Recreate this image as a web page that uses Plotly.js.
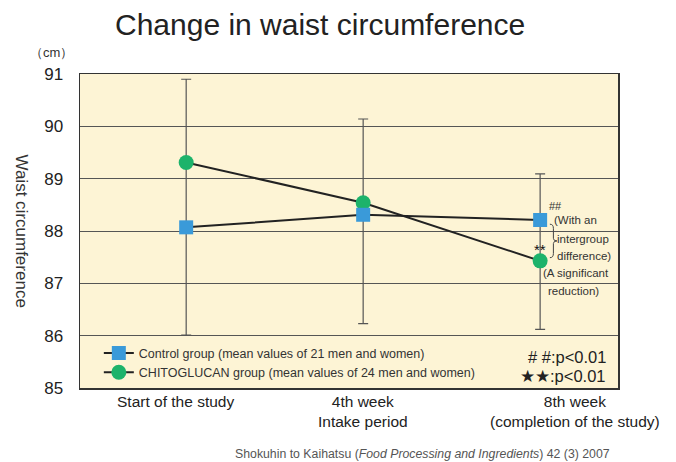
<!DOCTYPE html>
<html><head><meta charset="utf-8">
<script src="https://cdn.plot.ly/plotly-3.0.1.min.js"></script>
<style>html,body{margin:0;padding:0;background:#fff}#chart{width:676px;height:462px}</style>
</head><body><div id="chart"></div>
<script>
const categories = [0, 1, 2];
const categoryLabels = ["Start of the study", "4th week<br>Intake period", "8th week<br>(completion of the study)"];
const controlValues = [88.07, 88.31, 88.21];
const chitoglucanValues = [89.31, 88.54, 87.43];
const errorTop = [90.90, 90.14, 89.09];
const errorBottom = [86.01, 86.23, 86.12];
const yTicks = [85, 86, 87, 88, 89, 90, 91];

const sans = '"Liberation Sans", Arial, sans-serif';

const chito = {
  x: categories, y: chitoglucanValues, type: 'scatter', mode: 'lines+markers',
  name: 'CHITOGLUCAN group (mean values of 24 men and women)',
  line: {color: '#222', width: 2},
  marker: {symbol: 'circle', size: 15, color: '#1db36b'},
  error_y: {type: 'data', symmetric: false,
    array: errorTop.map((v, i) => v - chitoglucanValues[i]),
    arrayminus: chitoglucanValues.map((v, i) => v - errorBottom[i]),
    color: '#555', thickness: 1.2, width: 5}
};
const control = {
  x: categories, y: controlValues, type: 'scatter', mode: 'lines+markers',
  name: 'Control group (mean values of 21 men and women)',
  line: {color: '#222', width: 2},
  marker: {symbol: 'square', size: 14, color: '#3a9ad9'}
};

const noteFont = {family: sans, size: 11.5, color: '#333'};
const annotations = categoryLabels.map((t, i) => ({
  x: categories[i], y: 0, xref: 'x', yref: 'paper', yanchor: 'top', yshift: -3,
  xshift: [-11, 0, 35][i],
  text: t, showarrow: false, font: {family: sans, size: 15.5, color: '#222'}
}));
annotations.push(
  {x: 0.5, y: 1, xref: 'paper', yref: 'paper', xshift: -29, yshift: 68, text: 'Change in waist circumference',
   showarrow: false, font: {family: sans, size: 30, color: '#222'}},
  {x: 0, y: 1, xref: 'paper', yref: 'paper', xshift: -52, yshift: 31, text: '（cm）', showarrow: false,
   font: {family: sans, size: 13, color: '#333'}},
  {x: 0, y: 0.5, xref: 'paper', yref: 'paper', xshift: -70, text: 'Waist circumference', textangle: 90,
   showarrow: false, font: {family: sans, size: 17, color: '#333'}},
  {x: 2, y: controlValues[2], xref: 'x', yref: 'y', xshift: 15, yshift: 14, text: '##', showarrow: false,
   font: {family: sans, size: 11, color: '#333'}},
  {x: 2, y: controlValues[2], xref: 'x', yref: 'y', xanchor: 'left', xshift: 12, yshift: 0,
   text: '(With an', showarrow: false, font: noteFont},
  {x: 2, y: controlValues[2], xref: 'x', yref: 'y', xanchor: 'left', xshift: 15, yshift: -19,
   text: 'intergroup', showarrow: false, font: noteFont},
  {x: 2, y: controlValues[2], xref: 'x', yref: 'y', xanchor: 'left', xshift: 15, yshift: -36,
   text: 'difference)', showarrow: false, font: noteFont},
  {x: 2, y: chitoglucanValues[2], xref: 'x', yref: 'y', yshift: 11, text: '**', showarrow: false,
   font: {family: sans, size: 15, color: '#111'}},
  {x: 2, y: chitoglucanValues[2], xref: 'x', yref: 'y', xanchor: 'left', xshift: 1, yshift: -12,
   text: '(A significant', showarrow: false, font: noteFont},
  {x: 2, y: chitoglucanValues[2], xref: 'x', yref: 'y', xanchor: 'left', xshift: 6, yshift: -30,
   text: 'reduction)', showarrow: false, font: noteFont},
  {x: 1, y: 0, xref: 'paper', yref: 'paper', xanchor: 'right', yanchor: 'bottom', xshift: -10, yshift: 20,
   text: '# #:p&lt;0.01', showarrow: false, font: {family: sans, size: 16.5, color: '#222'}},
  {x: 1, y: 0, xref: 'paper', yref: 'paper', xanchor: 'right', yanchor: 'bottom', xshift: -10, yshift: 1,
   text: '★★:p&lt;0.01', showarrow: false, font: {family: sans, size: 16.5, color: '#222'}},
  {x: 1, y: 0, xref: 'paper', yref: 'paper', xanchor: 'right', yanchor: 'top', xshift: -6, yshift: -57,
   text: 'Shokuhin to Kaihatsu (<i>Food Processing and Ingredients</i>) 42 (3) 2007', showarrow: false,
   font: {family: sans, size: 12.3, color: '#555'}}
);

const bx = 2.075, bw = 0.02;
const yHi = controlValues[2] - 0.08, yLo = chitoglucanValues[2] + 0.06, yMid = (yHi + yLo) / 2;
const bracket = {
  type: 'path', xref: 'x', yref: 'y',
  path: `M ${bx - bw} ${yHi} Q ${bx} ${yHi} ${bx} ${yHi - 0.08} L ${bx} ${yMid + 0.05} Q ${bx} ${yMid} ${bx + bw} ${yMid} Q ${bx} ${yMid} ${bx} ${yMid - 0.05} L ${bx} ${yLo + 0.08} Q ${bx} ${yLo} ${bx - bw} ${yLo}`,
  line: {color: '#444', width: 1}
};

const layout = {
  width: 676, height: 462,
  margin: {l: 80, r: 58, t: 74, b: 74},
  paper_bgcolor: '#fff', plot_bgcolor: '#fdf4d5',
  showlegend: true,
  legend: {x: 0.035, y: 0.158, xanchor: 'left', yanchor: 'top', traceorder: 'reversed',
    bgcolor: 'rgba(0,0,0,0)', font: {family: sans, size: 12.5, color: '#333'}, tracegroupgap: 0},
  xaxis: {range: [-0.6, 2.44], showticklabels: false, ticks: '', showgrid: false, zeroline: false,
    showline: true, mirror: true, linecolor: '#333', linewidth: 1.5, tickvals: categories},
  yaxis: {range: [85, 91], tickvals: yTicks, ticktext: yTicks.map(String), showgrid: true,
    gridcolor: '#555', gridwidth: 1, zeroline: false, showline: true, mirror: true,
    linecolor: '#333', linewidth: 1.5, ticks: '', ticklen: 0, ticklabelstandoff: 12,
    tickfont: {family: sans, size: 17, color: '#222'}},
  annotations: annotations,
  shapes: [bracket]
};

Plotly.newPlot('chart', [chito, control], layout, {displayModeBar: false, staticPlot: true});
</script></body></html>
